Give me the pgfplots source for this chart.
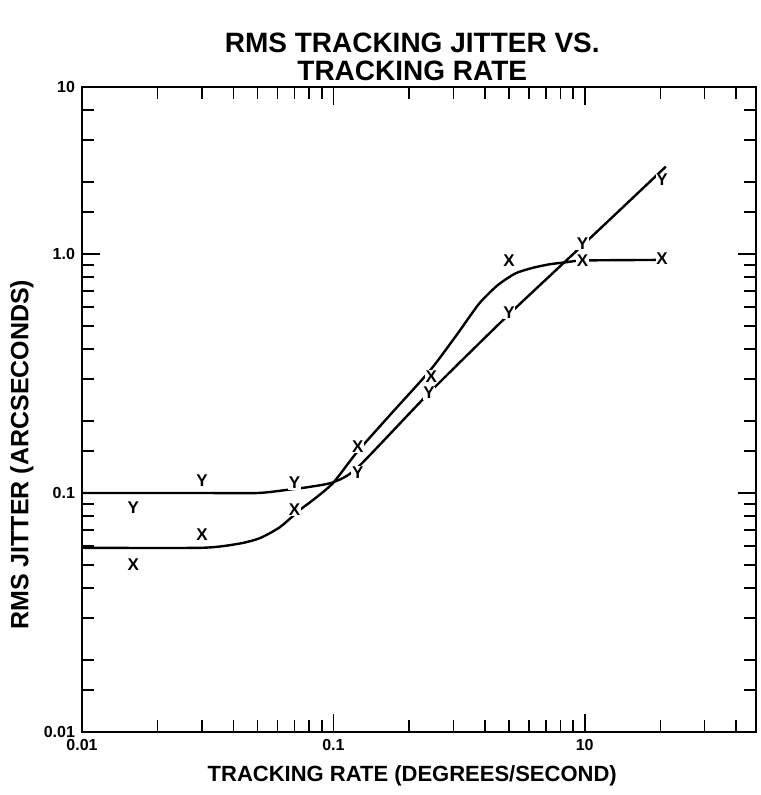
\documentclass[border=0pt]{standalone}
\usepackage{fontspec}
\setmainfont{Liberation Sans}
\usepackage{pgfplots}
\pgfplotsset{compat=1.18}
\begin{document}
\begin{tikzpicture}
\begin{axis}[
  at={(0,0)}, anchor=south west,
  scale only axis,
  width=337pt, height=322.5pt,
  xmode=log, ymode=log,
  xmin=0.01, xmax=4.8, ymin=0.01, ymax=5,
  axis line style={line width=1pt},
  tick align=inside,
  major tick length=9pt, minor tick length=6pt,
  tick style={black, line width=0.8pt},
  xtick={0.01,0.1,1}, xticklabels={0.01,0.1,10},
  minor xtick={0.02,0.03,0.04,0.05,0.06,0.07,0.08,0.09,0.2,0.3,0.4,0.5,0.6,0.7,0.8,0.9,2,3,4},
  ytick={0.01,0.1,1,5}, yticklabels={0.01,0.1,1.0,10},
  minor ytick={0.015,0.02,0.03,0.04,0.05,0.06,0.07,0.08,0.09,0.15,0.2,0.3,0.4,0.5,0.6,0.7,0.8,0.9,1.5,2,3,4},
  ticklabel style={font=\bfseries\fontsize{8}{9}\selectfont},
  xlabel={TRACKING RATE (DEGREES/SECOND)},
  ylabel={RMS JITTER (ARCSECONDS)},
  xlabel style={at={(axis description cs:0.49,-0.068)}, anchor=center, font=\bfseries\fontsize{11}{13}\selectfont},
  ylabel style={at={(axis description cs:-0.089,0.43)}, anchor=center, font=\bfseries\fontsize{12.5}{14}\selectfont},
  title={RMS TRACKING JITTER VS.\\TRACKING RATE},
  title style={at={(axis description cs:0.49,1.0434)}, anchor=center, yshift=-5pt, align=center, font=\bfseries\fontsize{14}{14}\selectfont},
]
% Y curve
\addplot[black, line width=1.2pt, smooth, tension=0.4] coordinates {
(0.01,0.1) (0.03,0.1) (0.05,0.1) (0.065,0.103) (0.08,0.106) (0.1,0.111) (0.125,0.128)
(0.24,0.262) (0.5,0.56) (1.0,1.11) (2.1,2.32)};
% X curve
\addplot[black, line width=1.2pt, smooth, tension=0.4] coordinates {
(0.01,0.059) (0.03,0.059) (0.0425,0.0615) (0.0511,0.0648) (0.0613,0.072) (0.0736,0.085)
(0.083,0.0935) (0.0996,0.110) (0.124,0.148) (0.17,0.215) (0.242,0.325) (0.31,0.46)
(0.38,0.62) (0.45,0.74) (0.53,0.83) (0.62,0.875) (0.72,0.905) (0.85,0.925) (1.0,0.94) (2.03,0.945)};
% Y data
\addplot[only marks, mark=text, text mark={Y}, text mark as node=true,
  text mark style={font=\bfseries\fontsize{8.5}{9}\selectfont, fill=white, inner sep=0.3pt}] coordinates {
(0.016,0.087) (0.03,0.113) (0.07,0.110) (0.125,0.122) (0.24,0.262) (0.5,0.57) (0.98,1.11) (2.03,2.04)};
% X data
\addplot[only marks, mark=text, text mark={X}, text mark as node=true,
  text mark style={font=\bfseries\fontsize{8.5}{9}\selectfont, fill=white, inner sep=0.3pt}] coordinates {
(0.016,0.050) (0.03,0.067) (0.07,0.085) (0.125,0.156) (0.245,0.306) (0.5,0.94) (0.98,0.94) (2.03,0.96)};
\end{axis}
\pgfresetboundingbox
\path[use as bounding box] (-41pt,-31.5pt) rectangle (339pt,366pt);
\end{tikzpicture}
\end{document}
